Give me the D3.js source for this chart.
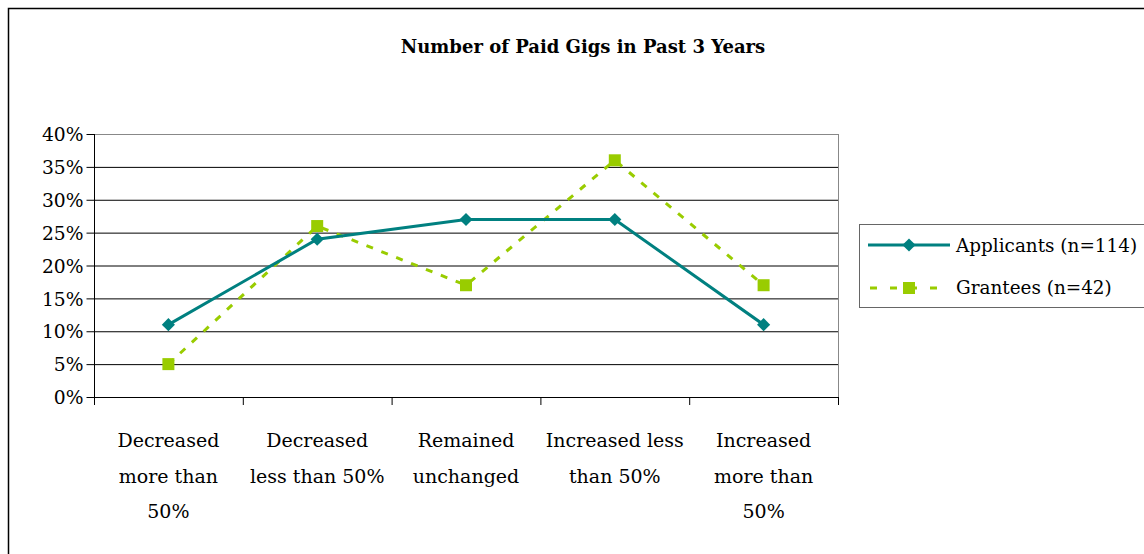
<!DOCTYPE html>
<html><head><meta charset="utf-8">
<script src="https://cdn.jsdelivr.net/npm/d3@7"></script>
<style>body{margin:0;background:#fff}svg{display:block}text{font-family:"DejaVu Serif",serif;fill:#000}</style>
</head><body><svg id="c" width="1144" height="554"></svg>
<script>
const categories = [["Decreased","more than","50%"],["Decreased","less than 50%"],["Remained","unchanged"],["Increased less","than 50%"],["Increased","more than","50%"]];
const applicants = [11,24,27,27,11];
const grantees = [5,26,17,36,17];
const yTicks = [0,5,10,15,20,25,30,35,40];
const seriesNames = ["Applicants (n=114)","Grantees (n=42)"];
const title = "Number of Paid Gigs in Past 3 Years";
const FONT = "DejaVu Serif, serif";

const svg = d3.select("#c");
svg.append("rect").attr("x",8.5).attr("y",8.5).attr("width",1150).attr("height",560).attr("fill","none").attr("stroke","#000").attr("stroke-width",1.5);
svg.append("text").attr("x",583).attr("y",53).attr("text-anchor","middle").attr("font-weight","bold").style("font-size","18px").text(title);

const L=94,R=838,T=134,B=397;
const x = d3.scaleBand().domain(d3.range(categories.length)).range([L,R]);
const y = d3.scaleLinear().domain([0,40]).range([B,T]);

// gridlines
svg.append("g").selectAll("line").data(yTicks.filter(d=>d>0)).join("line")
 .attr("x1",L).attr("x2",R).attr("y1",d=>y(d)+0.5).attr("y2",d=>y(d)+0.5)
 .attr("stroke",d=>d===40?"#888":"#000").attr("stroke-width",1);
svg.append("line").attr("x1",R+0.5).attr("x2",R+0.5).attr("y1",T).attr("y2",B).attr("stroke","#888");

// y axis
const ya = svg.append("g").attr("transform",`translate(${L+0.5},0)`).call(d3.axisLeft(y).tickValues(yTicks).tickSize(8).tickFormat(d=>d+"%"));
ya.attr("font-family",FONT);
ya.select(".domain").attr("d",`M0,${T}V${B}`).attr("stroke","#000");
ya.selectAll(".tick line").attr("stroke","#000");
ya.selectAll(".tick text").attr("x",-11).attr("dy","0.36em").style("font-size","18.7px");

// x axis
svg.append("line").attr("x1",L).attr("x2",R).attr("y1",B+0.5).attr("y2",B+0.5).attr("stroke","#000");
svg.append("g").selectAll("line").data(d3.range(categories.length+1)).join("line")
 .attr("x1",d=>(d<categories.length?x(d):R)+0.5).attr("x2",d=>(d<categories.length?x(d):R)+0.5)
 .attr("y1",B).attr("y2",B+8).attr("stroke","#000");
const cl = svg.append("g").selectAll("text").data(categories).join("text")
 .attr("text-anchor","middle").style("font-size","19px");
cl.each(function(lines,i){
  d3.select(this).selectAll("tspan").data(lines).join("tspan")
   .attr("x",x(i)+x.bandwidth()/2).attr("y",(d,j)=>447+j*35.5).text(d=>d);
});

const cx = i=>x(i)+x.bandwidth()/2;
const line = d3.line().x((d,i)=>cx(i)).y(d=>y(d));
const teal="#008080", green="#99CC00";
svg.append("path").attr("d",line(grantees)).attr("fill","none").attr("stroke",green).attr("stroke-width",3).attr("stroke-dasharray","7,9");
svg.append("path").attr("d",line(applicants)).attr("fill","none").attr("stroke",teal).attr("stroke-width",3);
svg.append("g").selectAll("rect").data(grantees).join("rect")
 .attr("x",(d,i)=>cx(i)-6).attr("y",d=>y(d)-6).attr("width",12).attr("height",12).attr("fill",green);
svg.append("g").selectAll("path").data(applicants).join("path")
 .attr("d",d3.symbol(d3.symbolDiamond2,110)).attr("transform",(d,i)=>`translate(${cx(i)},${y(d)})`).attr("fill",teal);

// legend
const lg = svg.append("g");
lg.append("rect").attr("x",859.5).attr("y",224.5).attr("width",300).attr("height",83).attr("fill","#fff").attr("stroke","#666");
lg.append("line").attr("x1",868).attr("x2",950).attr("y1",245).attr("y2",245).attr("stroke",teal).attr("stroke-width",3);
lg.append("path").attr("d",d3.symbol(d3.symbolDiamond2,110)).attr("transform","translate(909,245)").attr("fill",teal);
lg.append("line").attr("x1",870).attr("x2",950).attr("y1",288).attr("y2",288).attr("stroke",green).attr("stroke-width",3).attr("stroke-dasharray","7,13");
lg.append("rect").attr("x",903).attr("y",282).attr("width",12).attr("height",12).attr("fill",green);
lg.selectAll("text").data(seriesNames).join("text").attr("x",956).attr("y",(d,i)=>252+i*42).style("font-size","18.4px").text(d=>d);
</script></body></html>
